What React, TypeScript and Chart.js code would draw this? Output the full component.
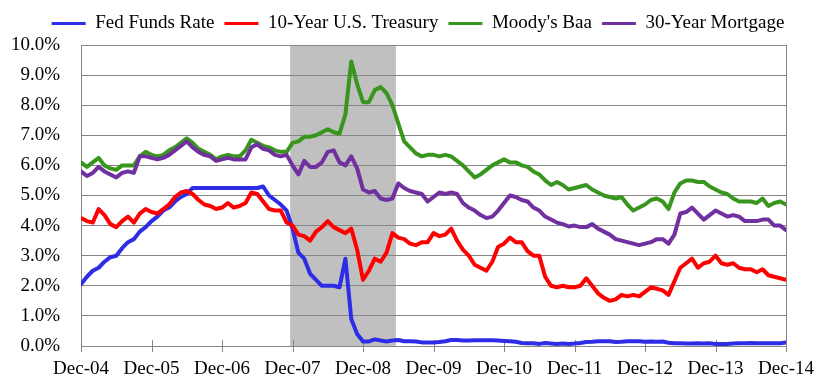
import React, { useEffect, useRef } from 'react';
import { Chart, registerables } from 'chart.js';

Chart.register(...registerables);

// Month index 0 = Dec-04 ... 120 = Dec-14
const xTickLabels = ['Dec-04', 'Dec-05', 'Dec-06', 'Dec-07', 'Dec-08', 'Dec-09', 'Dec-10', 'Dec-11', 'Dec-12', 'Dec-13', 'Dec-14'];
const yTickLabels = ['0.0%', '1.0%', '2.0%', '3.0%', '4.0%', '5.0%', '6.0%', '7.0%', '8.0%', '9.0%', '10.0%'];

const fedFunds = [
  2.05, 2.3, 2.5, 2.6, 2.8, 2.95, 3.0, 3.25, 3.45, 3.55, 3.8, 3.95,
  4.15, 4.3, 4.5, 4.6, 4.8, 4.95, 5.05, 5.25, 5.25, 5.25, 5.25, 5.25,
  5.25, 5.25, 5.25, 5.25, 5.25, 5.25, 5.25, 5.3, 5.0, 4.85, 4.7, 4.5,
  3.9, 3.1, 2.9, 2.4, 2.2, 2.0, 2.0, 2.0, 1.95, 2.9, 0.9, 0.4,
  0.15, 0.15, 0.22, 0.18, 0.15, 0.18, 0.2, 0.16, 0.16, 0.15, 0.12, 0.12,
  0.12, 0.13, 0.16, 0.2, 0.2, 0.18, 0.18, 0.19, 0.19, 0.19, 0.19, 0.18,
  0.17, 0.16, 0.14, 0.1, 0.09, 0.09, 0.07, 0.1, 0.08, 0.07, 0.08, 0.07,
  0.08, 0.1, 0.13, 0.14, 0.16, 0.16, 0.16, 0.13, 0.14, 0.16, 0.16, 0.16,
  0.14, 0.15, 0.14, 0.15, 0.11, 0.09, 0.09, 0.08, 0.08, 0.09, 0.08, 0.09,
  0.07, 0.07, 0.07, 0.08, 0.09, 0.09, 0.1, 0.09, 0.09, 0.09, 0.09, 0.09,
  0.12,
];

const treasury10 = [
  4.25, 4.15, 4.1, 4.55, 4.35, 4.05, 3.95, 4.15, 4.3, 4.1, 4.4, 4.55,
  4.45, 4.4, 4.55, 4.7, 4.95, 5.1, 5.15, 5.05, 4.85, 4.7, 4.65, 4.55,
  4.6, 4.75, 4.6, 4.65, 4.75, 5.1, 5.05, 4.8, 4.55, 4.5, 4.5, 4.1,
  4.0, 3.7, 3.65, 3.5, 3.8, 3.95, 4.15, 3.95, 3.85, 3.75, 3.9, 3.2,
  2.2, 2.5, 2.9, 2.8, 3.1, 3.75, 3.6, 3.55, 3.4, 3.35, 3.45, 3.45,
  3.75, 3.65, 3.7, 3.9, 3.5, 3.2, 3.0, 2.7, 2.6, 2.5, 2.8, 3.3,
  3.4, 3.6, 3.45, 3.45, 3.15, 3.0, 3.0, 2.3, 2.0, 1.95, 2.0, 1.95,
  1.95, 2.0, 2.25, 2.0, 1.75, 1.6, 1.5, 1.55, 1.7, 1.65, 1.7, 1.65,
  1.8, 1.95, 1.9, 1.85, 1.7, 2.15, 2.6, 2.75, 2.9, 2.6, 2.75, 2.8,
  3.0, 2.75, 2.7, 2.75, 2.6, 2.55, 2.55, 2.45, 2.55, 2.35, 2.3, 2.25,
  2.2,
];

const moodysBaa = [
  6.1, 5.95, 6.1, 6.25, 6.0, 5.9, 5.85, 6.0, 6.0, 6.0, 6.3, 6.45,
  6.35, 6.3, 6.35, 6.5, 6.6, 6.75, 6.9, 6.75, 6.55, 6.45, 6.35, 6.2,
  6.3, 6.35, 6.3, 6.3, 6.5, 6.85, 6.75, 6.65, 6.6, 6.5, 6.45, 6.45,
  6.75, 6.8, 6.95, 6.95, 7.0, 7.1, 7.2, 7.1, 7.05, 7.7, 9.45, 8.7,
  8.1, 8.1, 8.5, 8.6, 8.4, 8.0, 7.4, 6.8, 6.6, 6.4, 6.3, 6.35,
  6.35, 6.3, 6.35, 6.3, 6.15, 6.0, 5.8, 5.6, 5.7, 5.85, 6.0, 6.1,
  6.2, 6.1, 6.1, 6.0, 5.95, 5.8, 5.7, 5.5, 5.35, 5.45, 5.35, 5.2,
  5.25, 5.3, 5.35, 5.2, 5.1, 5.0, 4.95, 4.9, 4.95, 4.7, 4.5, 4.6,
  4.7, 4.85, 4.9, 4.8, 4.55, 5.1, 5.4, 5.5, 5.5, 5.45, 5.45, 5.3,
  5.2, 5.1, 5.05, 4.9, 4.8, 4.8, 4.8, 4.75, 4.9, 4.65, 4.75, 4.8,
  4.7,
];

const mortgage30 = [
  5.8, 5.65, 5.75, 5.95, 5.8, 5.7, 5.6, 5.75, 5.8, 5.75, 6.3, 6.3,
  6.25, 6.2, 6.25, 6.35, 6.5, 6.65, 6.8, 6.6, 6.45, 6.35, 6.3, 6.15,
  6.2, 6.25, 6.2, 6.2, 6.2, 6.6, 6.7, 6.55, 6.5, 6.35, 6.3, 6.35,
  6.0, 5.7, 6.15, 5.95, 5.95, 6.1, 6.45, 6.5, 6.1, 6.0, 6.3, 5.9,
  5.2, 5.1, 5.15, 4.9, 4.85, 4.9, 5.4, 5.25, 5.15, 5.1, 5.05, 4.8,
  4.95, 5.1, 5.05, 5.1, 5.05, 4.75, 4.6, 4.5, 4.35, 4.25, 4.3, 4.5,
  4.75, 5.0, 4.95, 4.85, 4.8, 4.6, 4.5, 4.3, 4.2, 4.1, 4.05, 3.97,
  4.0, 3.95, 3.95, 4.05, 3.9, 3.8, 3.7, 3.55, 3.5, 3.45, 3.4, 3.35,
  3.4, 3.45, 3.55, 3.55, 3.4, 3.7, 4.4, 4.45, 4.6, 4.4, 4.2, 4.35,
  4.5, 4.4, 4.3, 4.35, 4.3, 4.15, 4.15, 4.15, 4.2, 4.2, 4.0, 4.0,
  3.85,
];

// Recession shading (month index)
const recession = [35.6, 53.6];

const seriesNames = ['Fed Funds Rate', '10-Year U.S. Treasury', "Moody's Baa", '30-Year Mortgage'];
const seriesColors = ['rgb(45,45,230)', 'rgb(255,0,0)', 'rgb(56,150,30)', 'rgb(112,48,160)'];

const toPoints = (arr: number[]) => arr.map((v, i) => ({ x: i, y: v }));

const GRID = '#868686';

const decorPlugin = {
  id: 'decor',
  afterLayout(chart: any) {
    const l = chart.legend;
    if (l) {
      l.left += 20;
      l.right += 20;
    }
  },
  beforeDraw(chart: any) {
    const { ctx, chartArea: a, scales } = chart;
    const x = scales.x;
    const x0 = x.getPixelForValue(recession[0]);
    const x1 = x.getPixelForValue(recession[1]);
    ctx.save();
    ctx.fillStyle = '#C0C0C0';
    ctx.fillRect(x0, a.top, x1 - x0, a.bottom - a.top);
    ctx.restore();
  },
  beforeDatasetsDraw(chart: any) {
    const { ctx, chartArea: a, scales } = chart;
    const x = scales.x;
    ctx.save();
    ctx.strokeStyle = GRID;
    ctx.lineWidth = 1;
    ctx.beginPath();
    x.ticks.forEach((t: any) => {
      const px = Math.round(x.getPixelForValue(t.value)) + 0.5;
      ctx.moveTo(px, a.bottom - 6);
      ctx.lineTo(px, a.bottom + 6);
    });
    const rx = Math.round(a.right) + 0.5;
    ctx.moveTo(rx, a.top);
    ctx.lineTo(rx, a.bottom);
    ctx.stroke();
    ctx.restore();
  },
};

export default function App() {
  const ref = useRef<HTMLCanvasElement | null>(null);

  useEffect(() => {
    if (!ref.current) return;
    Chart.defaults.font.family = "'Liberation Serif', 'Times New Roman', serif";
    Chart.defaults.font.size = 19;
    Chart.defaults.color = '#000';

    const series = [fedFunds, treasury10, moodysBaa, mortgage30];
    const chart = new Chart(ref.current, {
      type: 'line',
      data: {
        datasets: series.map((s, i) => ({
          label: seriesNames[i],
          data: toPoints(s),
          borderColor: seriesColors[i],
          backgroundColor: seriesColors[i],
          borderWidth: 4,
          pointRadius: 0,
          tension: 0,
          borderJoinStyle: 'round' as const,
          borderCapStyle: 'round' as const,
          order: 4 - i,
        })),
      },
      options: {
        animation: false,
        responsive: true,
        maintainAspectRatio: false,
        layout: { padding: { top: -4, left: 0, right: 38, bottom: 0 } },
        plugins: {
          tooltip: { enabled: false },
          title: {
            display: true,
            text: '',
            weight: 500,
            padding: 0,
            font: { size: 2, lineHeight: 1 },
          } as any,
          legend: {
            position: 'top',
            labels: {
              boxWidth: 34,
              boxHeight: 3,
              padding: 10,
              font: { size: 19 },
              color: '#000',
              sort: (a: any, b: any) => a.datasetIndex - b.datasetIndex,
              generateLabels: (c: any) =>
                (Chart.defaults.plugins.legend.labels.generateLabels as any)(c).map((l: any) => ({
                  ...l,
                  lineWidth: 0,
                  fillStyle: seriesColors[l.datasetIndex],
                })),
            },
          },
        },
        scales: {
          x: {
            type: 'linear',
            min: 0,
            max: 120,
            grid: { display: false, drawTicks: false },
            border: { display: true, color: GRID, width: 1 },
            ticks: {
              stepSize: 12,
              padding: 12,
              autoSkip: false,
              maxRotation: 0,
              callback: (v: any) => xTickLabels[Math.round(Number(v) / 12)] ?? '',
            },
            afterFit: (s: any) => {
              s.height = 38;
            },
          },
          y: {
            min: 0,
            max: 10,
            grid: { color: GRID, lineWidth: 1, drawTicks: false },
            border: { display: true, color: GRID, width: 1 },
            ticks: {
              stepSize: 1,
              padding: 21,
              callback: (v: any) => yTickLabels[Math.round(Number(v))] ?? '',
            },
            afterFit: (s: any) => {
              s.width = 73;
            },
          },
        },
      },
      plugins: [decorPlugin],
    });
    return () => chart.destroy();
  }, []);

  return (
    <div style={{ position: 'relative', width: '818px', height: '376px' }}>
      <canvas ref={ref} />
    </div>
  );
}
